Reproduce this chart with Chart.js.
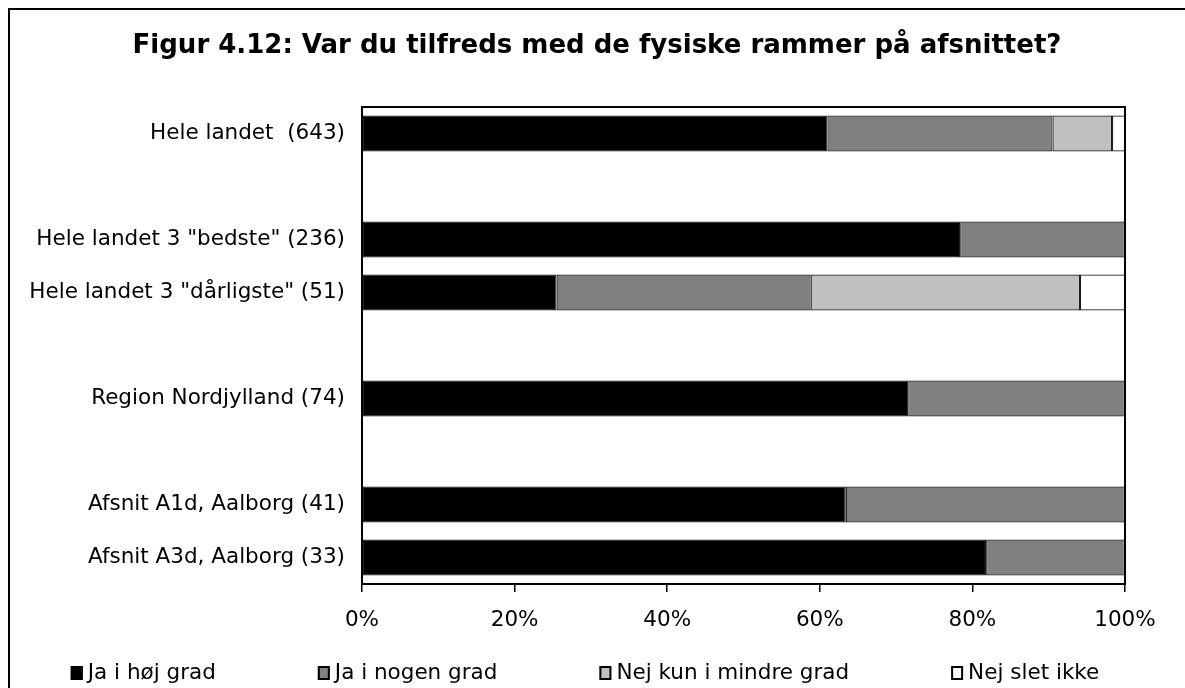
<!DOCTYPE html>
<html lang="da">
<head>
<meta charset="utf-8">
<title>Figur 4.12</title>
<script src="https://cdn.jsdelivr.net/npm/chart.js@4.4.1/dist/chart.umd.min.js"></script>
<style>
    html, body { margin: 0; padding: 0; background: #fff; }
    #wrap { width: 1185px; height: 688px; position: relative; }
</style>
</head>
<body>
<div id="wrap"><canvas id="grafico"></canvas></div>
<script>
// Kategorier (tomme strenge = mellemrum mellem grupperne)
const kategorier = [
    'Hele landet  (643)',
    '',
    'Hele landet 3 "bedste" (236)',
    'Hele landet 3 "dårligste" (51)',
    '',
    'Region Nordjylland (74)',
    '',
    'Afsnit A1d, Aalborg (41)',
    'Afsnit A3d, Aalborg (33)'
];

// Andele i procent
const jaHoejGrad      = [61.0, null, 78.4, 25.5, null, 71.6, null, 63.4, 81.8];
const jaNogenGrad     = [29.5, null, 21.6, 33.3, null, 28.4, null, 36.6, 18.2];
const nejMindreGrad   = [7.8,  null, 0,    35.3, null, 0,    null, 0,    0];
const nejSletIkke     = [1.7,  null, 0,    5.9,  null, 0,    null, 0,    0];

const serieNavne = ['Ja i høj grad', 'Ja i nogen grad', 'Nej kun i mindre grad', 'Nej slet ikke'];
const xTicks = [0, 20, 40, 60, 80, 100];
const titel = 'Figur 4.12: Var du tilfreds med de fysiske rammer på afsnittet?';

const FONT = 'DejaVu Sans';
const farver = ['#000000', '#808080', '#c0c0c0', '#ffffff'];

function lavDataset(navn, data, farve) {
    return {
        label: navn,
        data: data,
        backgroundColor: farve,
        borderColor: '#1a1a1a',
        borderWidth: 1.2,
        borderSkipped: false,
        barPercentage: 0.68,
        categoryPercentage: 1.0
    };
}

// Ramme om hele figuren, titel og ramme om plotområdet
const rammePlugin = {
    id: 'ramme',
    beforeDraw(chart) {
        const ctx = chart.ctx;
        ctx.save();
        ctx.fillStyle = '#fff';
        ctx.fillRect(0, 0, chart.width, chart.height);
        ctx.strokeStyle = '#000';
        ctx.lineWidth = 2;
        ctx.strokeRect(9, 9, chart.width + 20, chart.height + 20);

        // Titel
        ctx.fillStyle = '#000';
        ctx.font = 'bold 26px "' + FONT + '"';
        ctx.textAlign = 'center';
        ctx.textBaseline = 'middle';
        ctx.fillText(titel, 597, 46);
        ctx.restore();
    },
    afterDatasetsDraw(chart) {
        const a = chart.chartArea;
        const ctx = chart.ctx;
        ctx.save();
        ctx.strokeStyle = '#000';
        ctx.lineWidth = 2;
        ctx.strokeRect(a.left, a.top, a.right - a.left, a.bottom - a.top);
        ctx.restore();
    }
};

// Forklaring nederst, med fast afstand mellem punkterne
const forklaringPlugin = {
    id: 'forklaring',
    afterDraw(chart) {
        const ctx = chart.ctx;
        const y = 673;
        const mellemrum = 102;
        ctx.save();
        ctx.font = '21.5px "' + FONT + '"';
        ctx.textBaseline = 'middle';
        const bredder = chart.data.datasets.map(ds => 12 + 5 + ctx.measureText(ds.label).width);
        const total = bredder.reduce((s, b) => s + b, 0) + mellemrum * (bredder.length - 1);
        let x = 585 - total / 2;
        chart.data.datasets.forEach((ds, i) => {
            ctx.fillStyle = ds.backgroundColor;
            ctx.fillRect(x, y - 7, 12, 14);
            ctx.strokeStyle = '#000';
            ctx.lineWidth = 2;
            ctx.strokeRect(x + 1, y - 6, 10, 12);
            ctx.fillStyle = '#000';
            ctx.fillText(ds.label, x + 17, y);
            x += bredder[i] + mellemrum;
        });
        ctx.restore();
    }
};

document.addEventListener('DOMContentLoaded', () => {
    const ctx = document.getElementById('grafico').getContext('2d');
    new Chart(ctx, {
        type: 'bar',
        data: {
            labels: kategorier,
            datasets: [
                lavDataset(serieNavne[0], jaHoejGrad, farver[0]),
                lavDataset(serieNavne[1], jaNogenGrad, farver[1]),
                lavDataset(serieNavne[2], nejMindreGrad, farver[2]),
                lavDataset(serieNavne[3], nejSletIkke, farver[3])
            ]
        },
        options: {
            indexAxis: 'y',
            responsive: true,
            maintainAspectRatio: false,
            animation: false,
            layout: { padding: { left: 0, right: 60, top: 107, bottom: 0 } },
            plugins: {
                legend: { display: false },
                tooltip: { enabled: false },
                title: { display: false }
            },
            scales: {
                x: {
                    stacked: true,
                    min: 0,
                    max: 100,
                    afterBuildTicks: (s) => { s.ticks = xTicks.map(v => ({ value: v })); },
                    afterFit: (s) => { s.height = 104; },
                    grid: {
                        display: true,
                        drawOnChartArea: false,
                        drawTicks: true,
                        tickLength: 8,
                        color: '#000',
                        lineWidth: 1.5
                    },
                    border: { display: true, color: '#000', width: 2 },
                    ticks: {
                        color: '#000',
                        padding: 16,
                        maxRotation: 0,
                        font: { family: FONT, size: 21.5 },
                        callback: (v) => v + '%'
                    }
                },
                y: {
                    stacked: true,
                    afterFit: (s) => { s.width = 362; },
                    grid: { display: false, drawTicks: false },
                    border: { display: true, color: '#000', width: 2 },
                    ticks: {
                        color: '#000',
                        padding: 17,
                        autoSkip: false,
                        font: { family: FONT, size: 21.5 }
                    }
                }
            }
        },
        plugins: [rammePlugin, forklaringPlugin]
    });
});
</script>
</body>
</html>
